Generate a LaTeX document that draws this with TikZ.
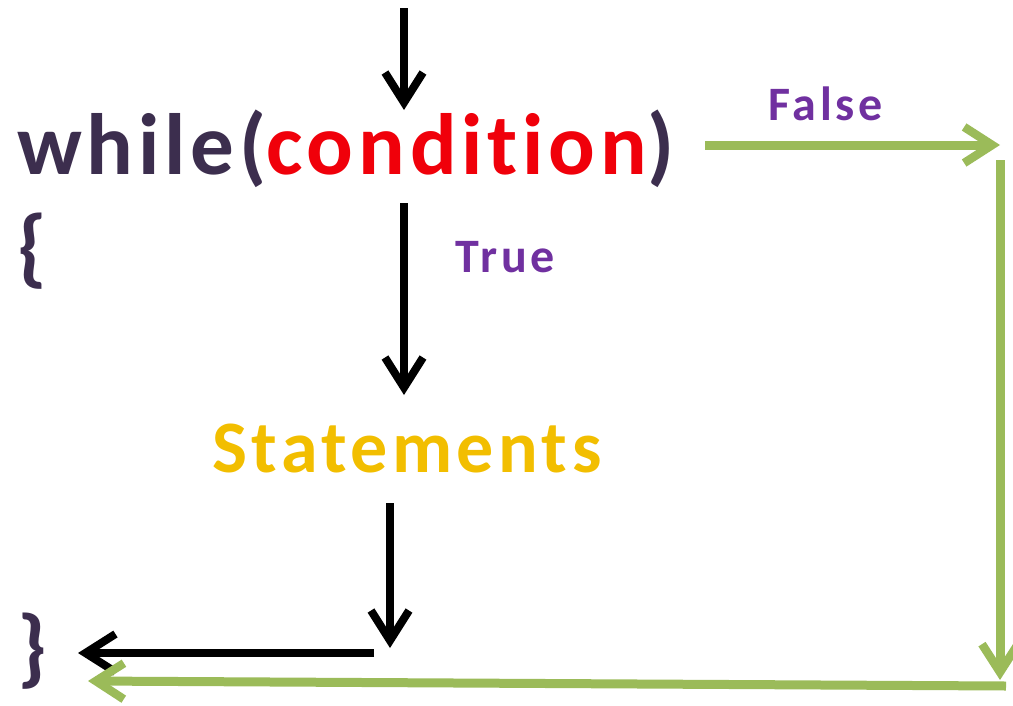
\documentclass[tikz,border=0pt]{standalone}
\usepackage{fontspec}
\setmainfont{Carlito}[Ligatures={NoCommon,NoContextual}]
\usetikzlibrary{arrows.meta}
\definecolor{codeink}{RGB}{60,46,78}
\definecolor{condred}{RGB}{240,0,10}
\definecolor{labelpurple}{RGB}{112,48,160}
\definecolor{stmtgold}{RGB}{242,190,0}
\definecolor{loopgreen}{RGB}{155,187,89}
\begin{document}
\begin{tikzpicture}[x=1pt,y=-1pt,
  flow/.style={line width=8.5pt,-{Straight Barb[length=30pt,width=38pt,line width=8pt]},black},
  back/.style={line width=9pt,-{Straight Barb[length=28pt,width=36pt,line width=8.5pt]},loopgreen},
  code/.style={inner sep=0pt,anchor=base west,font=\fontsize{87}{87}\selectfont\bfseries\addfontfeature{LetterSpace=5.5},text=codeink},
  lbl/.style={inner sep=0pt,anchor=base west,font=\fontsize{48}{48}\selectfont\bfseries\addfontfeature{LetterSpace=8},text=labelpurple}]
\useasboundingbox (0,0) rectangle (1013,705);
% code text
\node[code] (while) at (17,174) {while(\textcolor{condred}{condition})};
\node[code] (lbrace) at (17,276) {\{};
\node[code] (rbrace) at (17,676) {\}};
\node[inner sep=0pt,anchor=base west,font=\fontsize{74}{74}\selectfont\bfseries\addfontfeature{LetterSpace=6},text=stmtgold] (stmts) at (212,472) {Statements};
% branch labels
\node[lbl] (true) at (455,272) {True};
\node[lbl] (false) at (768,120) {False};
% connector end points
\coordinate (entry) at (404,8);
\coordinate (cin) at (404,110);
\coordinate (tstart) at (404,203);
\coordinate (tend) at (404,395);
\coordinate (sout) at (390,503);
\coordinate (send) at (390,648);
\coordinate (jstart) at (374,653);
\coordinate (jend) at (78,653);
\coordinate (fstart) at (705,145);
\coordinate (fend) at (1000,145);
\coordinate (dstart) at (1000,160);
\coordinate (dend) at (1000,680);
\coordinate (bstart) at (1006,686);
\coordinate (bend) at (88,681);
% black flow
\draw[flow] (entry) -- (cin);
\draw[flow] (tstart) -- (tend);
\draw[flow] (sout) -- (send);
\draw[flow] (jstart) -- (jend);
% green false path
\draw[back] (fstart) -- (fend);
\draw[back] (dstart) -- (dend);
\draw[back] (bstart) -- (bend);
\end{tikzpicture}
\end{document}
